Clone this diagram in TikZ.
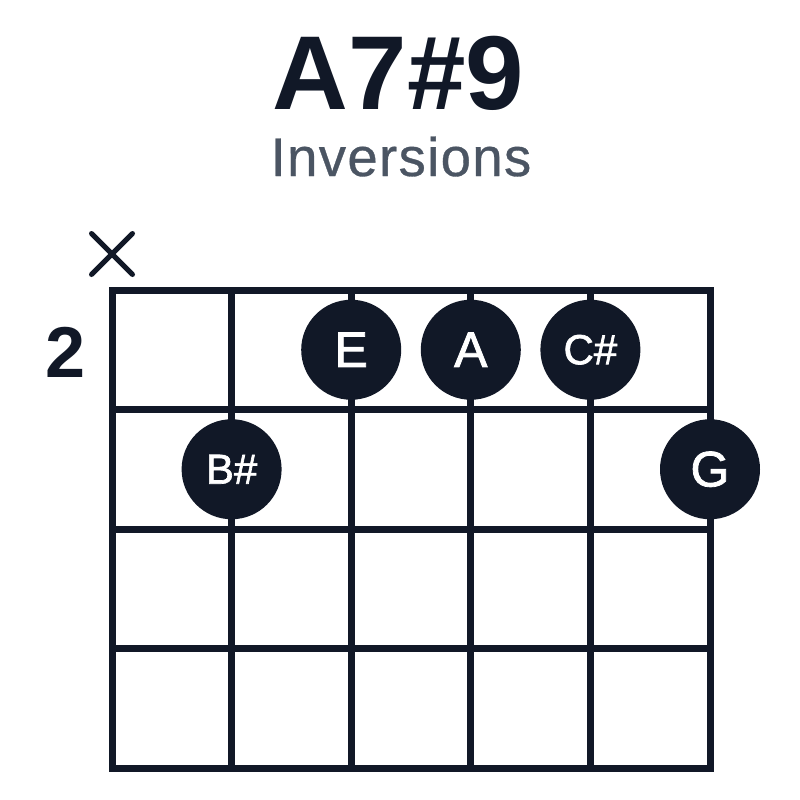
\documentclass[tikz,border=0pt]{standalone}
\usepackage{fontspec}
\usetikzlibrary{calc}
\setmainfont{Liberation Sans}
\newfontfamily\notefont[FakeBold=1.6]{Liberation Sans}
\newfontfamily\subfont[LetterSpace=2.5,FakeBold=0.6]{Liberation Sans}
\definecolor{ink}{HTML}{111827}
\definecolor{sub}{HTML}{4B5563}
\begin{document}
\begin{tikzpicture}[x=1pt,y=-1pt,
  fret/.style={draw=ink,line width=7pt},
  note/.style={circle,fill=ink,minimum size=100pt,inner sep=0pt,text=white,font=\notefont\fontsize{50}{50}\selectfont},
  notesm/.style={note,font=\notefont\fontsize{42}{42}\selectfont},
  mute/.style={draw=ink,line width=5pt,line cap=round}]
\useasboundingbox[fill=white] (0,0) rectangle (800,800);
\node[anchor=base,text=ink,font=\bfseries\fontsize{105}{105}\selectfont,inner sep=0pt] (title) at (398.5,109) {A7\#9};
\node[anchor=base,text=sub,font=\subfont\fontsize{54.5}{54.5}\selectfont,inner sep=0pt] (subtitle) at (401,176) {Inversions};
% grid
\foreach \i in {0,...,5} {
  \draw[fret,line cap=rect] ({112+\i*119.6},290) -- ({112+\i*119.6},768);
}
\foreach \j in {0,...,4} {
  \draw[fret,line cap=rect] (112,{290+\j*119.5}) -- (710,{290+\j*119.5});
}
% fret number
\node[anchor=base,text=ink,font=\bfseries\fontsize{72}{72}\selectfont,inner sep=0pt] (fretnum) at (66,377) {2};
% muted string
\coordinate (mx) at (112,254);
\draw[mute] ($(mx)+(-20.5,-20.5)$) -- ($(mx)+(20.5,20.5)$);
\draw[mute] ($(mx)+(-20.5,20.5)$) -- ($(mx)+(20.5,-20.5)$);
% notes
\node[note] (nE) at (351.2,349.75) {E};
\node[note] (nA) at (470.8,349.75) {A};
\node[notesm] (nC) at (590.4,349.75) {C\#};
\node[notesm] (nB) at (231.6,469.25) {B\#};
\node[note] (nG) at (710,469.25) {G};
\end{tikzpicture}
\end{document}
